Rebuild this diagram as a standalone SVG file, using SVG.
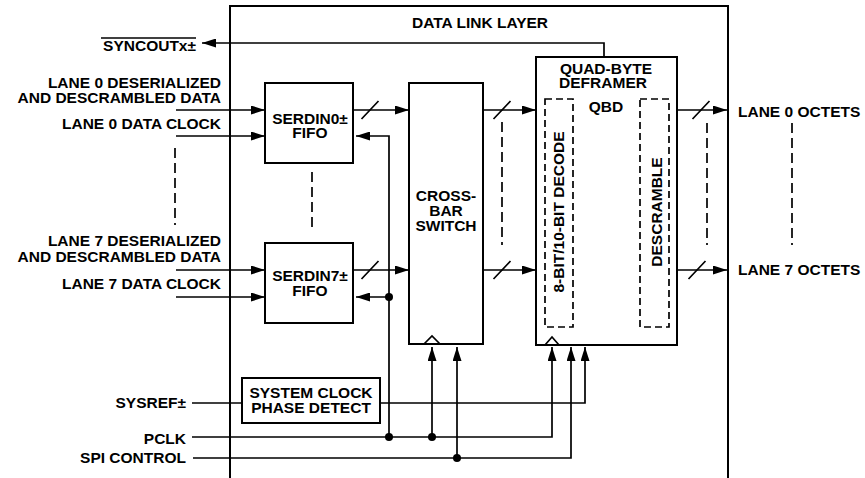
<svg xmlns="http://www.w3.org/2000/svg" width="865" height="478" viewBox="0 0 865 478">
<style>
.ln{stroke:#000;stroke-width:1.7;fill:none}
.bx{stroke:#000;stroke-width:2;fill:#fff}
.db{stroke:#000;stroke-width:1.7;fill:none;stroke-dasharray:7 4}
.dl{stroke:#000;stroke-width:1.7;fill:none;stroke-dasharray:10 5}
text{font-family:"Liberation Sans",Arial,Helvetica,sans-serif;font-weight:bold;font-size:15.5px;fill:#000}
.r{text-anchor:end}
.m{text-anchor:middle}
.a{marker-end:url(#ah)}
</style>
<defs>
<marker id="ah" markerUnits="userSpaceOnUse" markerWidth="15" markerHeight="9" refX="14" refY="4.5" orient="auto">
<path d="M0,0 L14,4.5 L0,9 z" fill="#000"/>
</marker>
</defs>
<rect width="865" height="478" fill="#fff"/>

<g id="data-link-layer">
<path class="ln" d="M230,478 V6 H728 V478" style="stroke-width:2"/>
<text class="m" x="480" y="28">DATA LINK LAYER</text>
</g>

<g id="serdin0">
<rect class="bx" x="265" y="83" width="88" height="80"/>
<text class="m" x="310" y="124">SERDIN0±</text>
<text class="m" x="310" y="138">FIFO</text>
</g>

<g id="serdin7">
<rect class="bx" x="265" y="243" width="88" height="80"/>
<text class="m" x="310" y="281">SERDIN7±</text>
<text class="m" x="310" y="296">FIFO</text>
</g>

<g id="crossbar">
<rect class="bx" x="409" y="83" width="74" height="261"/>
<polyline class="ln" points="424,344 432,336 440,344"/>
<text class="m" x="446" y="201">CROSS-</text>
<text class="m" x="446" y="216">BAR</text>
<text class="m" x="446" y="231">SWITCH</text>
</g>

<g id="deframer">
<rect class="bx" x="536" y="57" width="141" height="288"/>
<polyline class="ln" points="545,345 552,337 559,345"/>
<text class="m" x="606" y="74">QUAD-BYTE</text>
<text class="m" x="603" y="88">DEFRAMER</text>
<text class="m" x="606" y="112">QBD</text>
<rect class="db" x="545" y="99" width="28" height="228"/>
<text class="m" transform="translate(564,212) rotate(-90)">8-BIT/10-BIT DECODE</text>
<rect class="db" x="640" y="99" width="29" height="228"/>
<text class="m" transform="translate(662,212) rotate(-90)">DESCRAMBLE</text>
</g>

<g id="phase-detect">
<rect class="bx" x="242" y="378" width="138" height="45"/>
<text class="m" x="311" y="398">SYSTEM CLOCK</text>
<text class="m" x="311" y="413">PHASE DETECT</text>
</g>

<g id="labels">
<text class="r" x="196" y="51">SYNCOUTx±</text>
<line x1="101" y1="38" x2="196" y2="38" stroke="#000" stroke-width="1.5"/>
<text class="r" x="221" y="88">LANE 0 DESERIALIZED</text>
<text class="r" x="221" y="103">AND DESCRAMBLED DATA</text>
<text class="r" x="221" y="129">LANE 0 DATA CLOCK</text>
<text class="r" x="221" y="246">LANE 7 DESERIALIZED</text>
<text class="r" x="221" y="262">AND DESCRAMBLED DATA</text>
<text class="r" x="221" y="289">LANE 7 DATA CLOCK</text>
<text x="738" y="117">LANE 0 OCTETS</text>
<text x="738" y="275">LANE 7 OCTETS</text>
<text class="r" x="186" y="408">SYSREF±</text>
<text class="r" x="186" y="444">PCLK</text>
<text class="r" x="186" y="463">SPI CONTROL</text>
</g>

<g id="connectors">
<path class="ln a" d="M604,57 V43 H202"/>
<path class="ln a" d="M176,110 H265"/>
<path class="ln a" d="M176,136 H265"/>
<path class="ln a" d="M176,270 H265"/>
<path class="ln a" d="M176,297 H265"/>
<path class="ln a" d="M353,110 H409"/>
<path class="ln a" d="M353,270 H409"/>
<path class="ln a" d="M483,110 H536"/>
<path class="ln a" d="M483,270 H536"/>
<path class="ln a" d="M677,110 H727"/>
<path class="ln a" d="M677,270 H727"/>
<path class="ln" d="M361.5,119 L378.5,101 M493.5,119 L510.5,101 M692.5,119 L709.5,101 M361.5,279 L378.5,261 M493.5,279 L510.5,261 M688.5,279 L705.5,261"/>
<path class="ln a" d="M192,437 H552 V347"/>
<path class="ln a" d="M389,437 V136 H356"/>
<path class="ln a" d="M389,297 H356"/>
<path class="ln a" d="M432,437 V347"/>
<path class="ln a" d="M193,458 H571 V347"/>
<path class="ln a" d="M457,458 V347"/>
<path class="ln" d="M192,403 H242"/>
<path class="ln a" d="M380,403 H585 V347"/>
<circle cx="389" cy="297" r="4"/>
<circle cx="389" cy="437" r="4"/>
<circle cx="432" cy="437" r="4"/>
<circle cx="457" cy="458" r="4"/>
<path class="dl" d="M175,148 V225 M312,172 V230 M502,122 V245 M707,123 V245 M792,123 V245"/>
</g>
</svg>
